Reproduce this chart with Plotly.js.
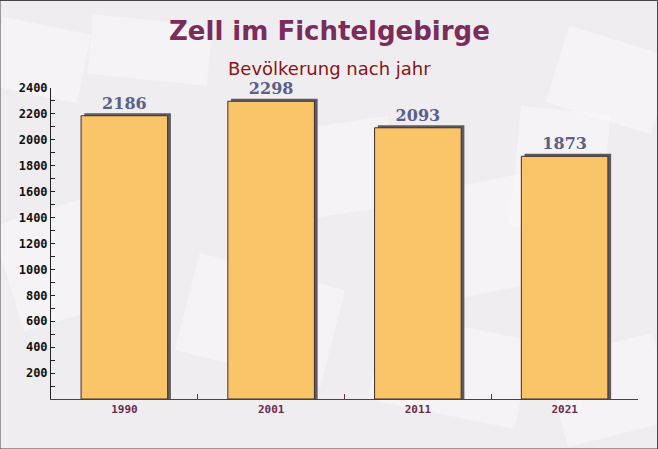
<!DOCTYPE html>
<html><head><meta charset="utf-8">
<script src="https://cdn.plot.ly/plotly-3.0.1.min.js"></script>
<style>html,body{margin:0;padding:0;background:#f2eff2;}#c{width:658px;height:449px;}</style>
</head><body><div id="c"></div>
<script>
const years = ['1990', '2001', '2011', '2021'];
const population = [2186, 2298, 2093, 1873];
const yTicks = [200, 400, 600, 800, 1000, 1200, 1400, 1600, 1800, 2000, 2200, 2400];
const titleText = 'Zell im Fichtelgebirge';
const subtitleText = 'Bevölkerung nach jahr';

const barW = 0.59;
const shadowDy = 20;     // data units (~3px)
const shadowDx = 0.022;  // category units (~3px)

const shadow = {
  type: 'bar', x: years, y: population.map(v => v + shadowDy),
  width: barW, offset: -barW / 2 + shadowDx,
  marker: {color: '#5f5a62', line: {width: 0}},
  hoverinfo: 'skip', showlegend: false
};
const bars = {
  type: 'bar', x: years, y: population,
  width: barW, offset: -barW / 2,
  marker: {color: '#fac468', line: {color: '#3a3030', width: 1}},
  text: population.map(String), textposition: 'outside', cliponaxis: false,
  textfont: {family: 'DejaVu Serif, serif', size: 16, color: '#5a6088', weight: 'bold'},
  showlegend: false
};

// decorative background "envelopes" (rotated rectangles, pixel coords -> paper)
function px(x){return (x-51)/587;} function py(y){return (399-y)/311;}
function rotRect(cx, cy, w, h, a){
  const c = Math.cos(a), s = Math.sin(a);
  const pts = [[-w/2,-h/2],[w/2,-h/2],[w/2,h/2],[-w/2,h/2]].map(p => [cx + p[0]*c - p[1]*s, cy + p[0]*s + p[1]*c]);
  return 'M' + pts.map(p => px(p[0]).toFixed(4) + ',' + py(p[1]).toFixed(4)).join(' L') + ' Z';
}
const env = [[70,260,130,110,-0.3],[260,320,150,100,0.25],[470,240,150,110,-0.2],[610,80,110,80,0.3],[330,170,130,90,-0.15],[150,50,120,60,0.1],[450,370,150,90,0.2],[610,390,110,90,-0.25],[40,60,90,70,0.2],[560,170,90,120,0.1]];
const bgShapes = env.map(e => ({type:'path', xref:'paper', yref:'paper', layer:'below',
  path: rotRect(e[0], e[1], e[2], e[3], e[4]), fillcolor:'rgba(255,255,255,0.35)', line:{width:0}}));

const layout = {
  width: 658, height: 449,
  margin: {l: 51, r: 20, t: 88, b: 50},
  paper_bgcolor: '#f0edf0', plot_bgcolor: 'rgba(0,0,0,0)',
  barmode: 'overlay',
  xaxis: {
    type: 'category', showgrid: false, zeroline: false,
    showline: true, linecolor: '#6b3050', linewidth: 1,
    ticks: 'inside', tickson: 'boundaries', ticklen: 5, tickcolor: '#6b3050',
    tickfont: {family: 'DejaVu Sans Mono, monospace', size: 11, color: '#6b2d50', weight: 'bold'},
    fixedrange: true
  },
  yaxis: {
    range: [0, 2400], showgrid: false, zeroline: false,
    showline: true, linecolor: '#222', linewidth: 1,
    tickvals: yTicks, ticktext: yTicks.map(String),
    ticks: 'inside', ticklen: 4, tickcolor: '#222',
    minor: {dtick: 100, ticks: 'inside', ticklen: 4, tickcolor: '#222', showgrid: false},
    tickfont: {family: 'DejaVu Sans Mono, monospace', size: 12, color: '#111', weight: 'bold'},
    fixedrange: true
  },
  shapes: bgShapes.concat([{type:'rect', xref:'paper', yref:'paper', x0:-51/587, x1:(658-51-0.5)/587, y0:-50/311, y1:(449-50-0.5)/311, line:{color:'#444', width:1}, fillcolor:'rgba(0,0,0,0)'}]),
  annotations: [
    {text: titleText, xref: 'paper', yref: 'paper', x: px(329), y: py(31), showarrow: false,
     xanchor: 'center', yanchor: 'middle',
     font: {family: 'DejaVu Sans, sans-serif', size: 26, color: '#7a2c5a', weight: 'bold'}},
    {text: subtitleText, xref: 'paper', yref: 'paper', x: px(329), y: py(69), showarrow: false,
     xanchor: 'center', yanchor: 'middle',
     font: {family: 'DejaVu Sans, sans-serif', size: 18, color: '#8b1414'}}
  ]
};
Plotly.newPlot('c', [shadow, bars], layout, {displayModeBar: false, staticPlot: true});
</script></body></html>
